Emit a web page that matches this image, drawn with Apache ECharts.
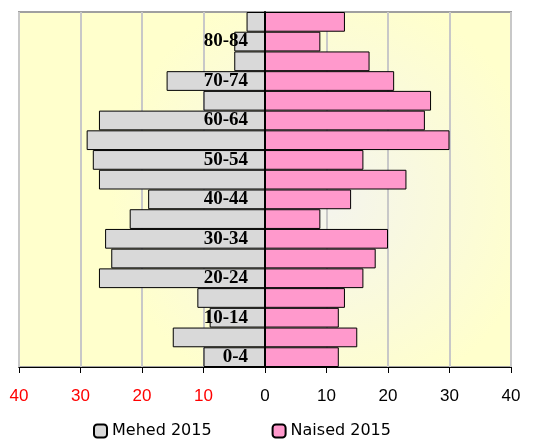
<!DOCTYPE html>
<html lang="et">

<head>
    <meta charset="UTF-8">
    <title>Rahvastikupüramiid 2015</title>
    <script src="https://cdn.jsdelivr.net/npm/echarts@6/dist/echarts.min.js"></script>
    <style>
        * {
            margin: 0px;
            padding: 0px;
        }

        #chart {
            width: 538px;
            height: 441px;
            background: #fff;
        }
    </style>
</head>

<body>
    <div id="chart"></div>

    <script type="text/javascript">
        // vanuserühmad alt üles
        var ageGroups = ['0-4', '5-9', '10-14', '15-19', '20-24', '25-29', '30-34', '35-39', '40-44',
            '45-49', '50-54', '55-59', '60-64', '65-69', '70-74', '75-79', '80-84', '85+'];
        var men = [10, 15, 9, 11, 27, 25, 26, 22, 19, 27, 28, 29, 27, 10, 16, 5, 5, 3];
        var women = [12, 15, 12, 13, 16, 18, 20, 9, 14, 23, 16, 30, 26, 27, 21, 17, 9, 13];

        var menNeg = men.map(function (v) { return -v; });

        var gridLeft = 19, gridRight = 27;
        var plotWidth = 538 - gridLeft - gridRight;

        var myChart = echarts.init(document.getElementById('chart'));

        var option = {
            animation: false,
            grid: {
                left: gridLeft,
                right: gridRight,
                top: 12,
                bottom: 74,
                outerBoundsMode: 'none',
                containLabel: false,
                show: true,
                borderColor: '#a0a0a0',
                borderWidth: 2,
                backgroundColor: {
                    type: 'radial',
                    x: 0.62, y: 0.52, r: 0.6,
                    colorStops: [
                        { offset: 0, color: '#f4f4ee' },
                        { offset: 1, color: '#ffffcc' }
                    ]
                }
            },
            legend: {
                top: 418,
                left: 88,
                itemGap: 60,
                itemWidth: 13,
                itemHeight: 13,
                textStyle: {
                    fontFamily: 'DejaVu Sans',
                    fontSize: 16,
                    color: '#000'
                },
                data: ['Mehed 2015', 'Naised 2015']
            },
            xAxis: {
                type: 'value',
                min: -40,
                max: 40,
                interval: 10,
                axisLine: { show: true, onZero: false, lineStyle: { color: '#000' } },
                axisTick: { show: true, length: 6, lineStyle: { color: '#000' } },
                splitLine: { show: true, lineStyle: { color: '#c8c8c8', width: 2 } },
                axisLabel: {
                    margin: 21,
                    fontFamily: 'Liberation Sans',
                    fontSize: 17,
                    formatter: function (v) { return Math.abs(v); },
                    color: function (v) { return v < 0 ? '#ff0000' : '#000'; }
                }
            },
            yAxis: {
                type: 'category',
                data: ageGroups,
                z: 10,
                // telg nullpunkti
                offset: -plotWidth / 2,
                axisLine: { show: true, onZero: false, lineStyle: { color: '#000', width: 2 } },
                axisTick: { show: false },
                axisLabel: {
                    interval: 1,
                    margin: 17,
                    padding: [4, 0, 0, 0],
                    fontFamily: 'Liberation Serif',
                    fontWeight: 'bold',
                    fontSize: 19,
                    color: '#000'
                }
            },
            series: [{
                name: 'Mehed 2015',
                type: 'bar',
                stack: 'pop',
                barCategoryGap: 0,
                data: menNeg,
                itemStyle: { color: '#d9d9d9', borderColor: '#000', borderWidth: 1 }
            }, {
                name: 'Naised 2015',
                type: 'bar',
                stack: 'pop',
                barCategoryGap: 0,
                data: women,
                itemStyle: { color: '#ff99cc', borderColor: '#000', borderWidth: 1 }
            }]
        };

        myChart.setOption(option);
    </script>
</body>

</html>
